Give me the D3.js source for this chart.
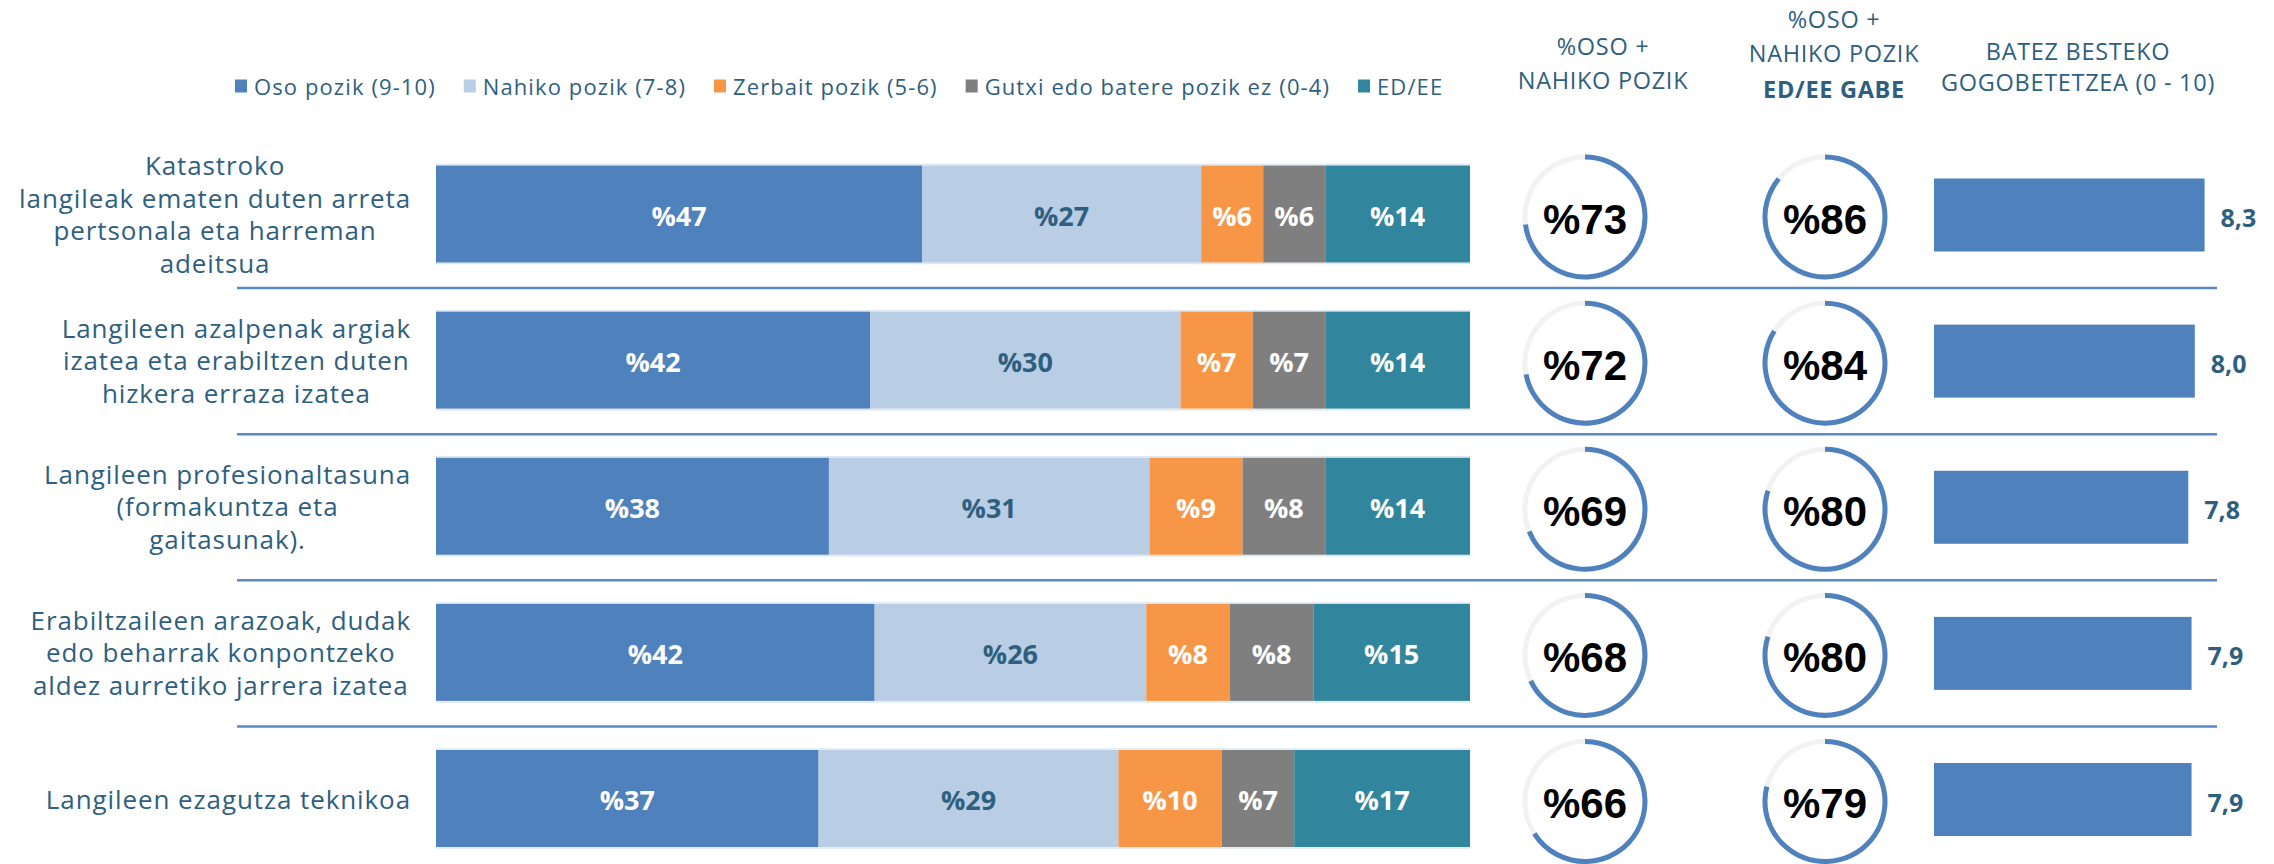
<!DOCTYPE html>
<html>
<head>
<meta charset="utf-8">
<script src="https://cdn.jsdelivr.net/npm/d3@7"></script>
<style>
  html, body { margin: 0; padding: 0; background: #ffffff; }
  svg { display: block; }
</style>
</head>
<body>
<svg id="chart" width="2274" height="864"></svg>
<script>
// ---------------- DATA ----------------
const categories = [
  ["Katastroko", "langileak ematen duten arreta", "pertsonala eta harreman", "adeitsua"],
  ["Langileen azalpenak argiak", "izatea eta erabiltzen duten", "hizkera erraza izatea"],
  ["Langileen profesionaltasuna", "(formakuntza eta", "gaitasunak)."],
  ["Erabiltzaileen arazoak, dudak", "edo beharrak konpontzeko", "aldez aurretiko jarrera izatea"],
  ["Langileen ezagutza teknikoa"]
];
const seriesNames = ["Oso pozik (9-10)", "Nahiko pozik (7-8)", "Zerbait pozik (5-6)", "Gutxi edo batere pozik ez (0-4)", "ED/EE"];
const osoPozik     = [47, 42, 38, 42, 37];
const nahikoPozik  = [27, 30, 31, 26, 29];
const zerbaitPozik = [6, 7, 9, 8, 10];
const gutxiPozik   = [6, 7, 8, 8, 7];
const edEe         = [14, 14, 14, 15, 17];
const osoNahiko      = [73, 72, 69, 68, 66];
const osoNahikoGabe  = [86, 84, 80, 80, 79];
const batezBesteko   = [8.3, 8.0, 7.8, 7.9, 7.9];
const headerOsoNahiko = ["%OSO +", "NAHIKO POZIK"];
const headerGabe      = ["%OSO +", "NAHIKO POZIK", "ED/EE GABE"];
const headerBatez     = ["BATEZ BESTEKO", "GOGOBETETZEA (0 - 10)"];

// ---------------- STYLE ----------------
const colors = ["#4f81bd", "#b9cde5", "#f79646", "#7f7f7f", "#31859c"];
const labelColors = ["#ffffff", "#2f5f7f", "#ffffff", "#ffffff", "#ffffff"];
const textColor = "#2f5f7f";
const FONT = "'Open Sans', 'DejaVu Sans', sans-serif";
const NUMFONT = "'Liberation Sans', Arial, sans-serif";

const svg = d3.select("#chart");
const seriesValues = [osoPozik, nahikoPozik, zerbaitPozik, gutxiPozik, edEe];
const idx = categories.map((d, i) => i);

// scales
const y = d3.scalePoint().domain(idx).range([214, 798.5]);
const x = d3.scaleLinear().domain([0, 1]).range([436, 1470]);
const barH = 97;
const xAvg = d3.scaleLinear().domain([0, 10]).range([1934, 1934 + 326]);
const avgH = 73;

// stacked data (rows normalised to full width, labels keep the values)
const rows = idx.map(i => {
  const o = {i};
  seriesNames.forEach((s, k) => o[k] = seriesValues[k][i]);
  return o;
});
const stack = d3.stack().keys(d3.range(seriesNames.length)).offset(d3.stackOffsetExpand)(rows);

// separators
const step = y.step();
idx.slice(0, -1).forEach(i => {
  svg.append("line")
    .attr("x1", 237).attr("x2", 2217)
    .attr("y1", y(i) + step / 2 + 1).attr("y2", y(i) + step / 2 + 1)
    .attr("stroke", "#5b89c4").attr("stroke-width", 2.5);
});

// faint bar outline lines
idx.forEach(i => {
  [y(i) - barH / 2 - 1, y(i) + barH / 2 + 1].forEach(yy => {
    svg.append("line").attr("x1", x(0)).attr("x2", x(1))
      .attr("y1", yy).attr("y2", yy)
      .attr("stroke", "#dde7f2").attr("stroke-width", 1.5);
  });
});

// stacked bars
const gs = svg.selectAll("g.series").data(stack).join("g").attr("class", "series");
gs.each(function(layer, k) {
  const g = d3.select(this);
  g.selectAll("rect").data(layer).join("rect")
    .attr("x", d => x(d[0]))
    .attr("width", d => x(d[1]) - x(d[0]))
    .attr("y", d => y(d.data.i) - barH / 2)
    .attr("height", barH)
    .attr("fill", colors[k]);
  g.selectAll("text").data(layer).join("text")
    .attr("x", d => (x(d[0]) + x(d[1])) / 2)
    .attr("y", d => y(d.data.i) + 1)
    .attr("text-anchor", "middle")
    .attr("dominant-baseline", "central")
    .attr("font-family", FONT)
    .attr("font-weight", "bold")
    .attr("font-size", 27)
    .attr("fill", labelColors[k])
    .text(d => "%" + d.data[k]);
});

// category labels: block right-aligned at 411, lines centered
const lineH = 32.5;
idx.forEach(i => {
  const lines = categories[i];
  const g = svg.append("g");
  const t = g.selectAll("text").data(lines).join("text")
    .attr("font-family", FONT)
    .attr("font-size", 26)
    .attr("letter-spacing", 0.9)
    .attr("fill", textColor)
    .attr("text-anchor", "middle")
    .attr("dominant-baseline", "central")
    .attr("y", (d, j) => y(i) + (j - (lines.length - 1) / 2) * lineH)
    .text(d => d);
  let maxW = 0;
  t.each(function() { maxW = Math.max(maxW, this.getComputedTextLength()); });
  t.attr("x", 411 - maxW / 2);
});

// legend
let lx = 235;
const legY = 86;
seriesNames.forEach((s, k) => {
  svg.append("rect").attr("x", lx).attr("y", legY - 6.5).attr("width", 12).attr("height", 13).attr("fill", colors[k]);
  const t = svg.append("text").attr("x", lx + 19).attr("y", legY)
    .attr("dominant-baseline", "central")
    .attr("font-family", FONT).attr("font-size", 22).attr("letter-spacing", 1.1)
    .attr("fill", textColor)
    .text(s);
  lx += 19 + t.node().getComputedTextLength() + 28;
});

// headers
function header(lines, cx, ys, boldLast) {
  lines.forEach((l, j) => {
    svg.append("text").attr("x", cx).attr("y", ys[j])
      .attr("text-anchor", "middle").attr("dominant-baseline", "central")
      .attr("font-family", FONT).attr("font-size", 23.5)
      .attr("letter-spacing", 0.7)
      .attr("font-weight", boldLast && j === lines.length - 1 ? "bold" : "normal")
      .attr("fill", textColor).text(l);
  });
}
header(headerOsoNahiko, 1603, [46, 80], false);
header(headerGabe, 1834, [19, 53, 89], true);
header(headerBatez, 2078, [51, 82], false);

// donuts
const arcTrack = d3.arc().innerRadius(57.5).outerRadius(62.5).startAngle(0).endAngle(2 * Math.PI);
const arcVal = d3.arc().innerRadius(57.5).outerRadius(62.5).startAngle(0);
function donuts(values, cx) {
  values.forEach((v, i) => {
    const g = svg.append("g").attr("transform", `translate(${cx},${y(i) + 3})`);
    g.append("circle").attr("r", 57.5).attr("fill", "#ffffff");
    g.append("path").attr("d", arcTrack()).attr("fill", "#f2f2f2");
    g.append("path").attr("d", arcVal({endAngle: 2 * Math.PI * v / 100})).attr("fill", "#4f81bd");
    g.append("text").attr("text-anchor", "middle").attr("dominant-baseline", "central")
      .attr("y", 2)
      .attr("font-family", NUMFONT).attr("font-weight", "bold").attr("font-size", 42)
      .attr("fill", "#000000").text("%" + v);
  });
}
donuts(osoNahiko, 1585);
donuts(osoNahikoGabe, 1825);

// average bars
svg.append("g").selectAll("rect").data(batezBesteko).join("rect")
  .attr("x", xAvg(0))
  .attr("width", d => xAvg(d) - xAvg(0))
  .attr("y", (d, i) => y(i) + 1 - avgH / 2)
  .attr("height", avgH)
  .attr("fill", "#4f81bd");
svg.append("g").selectAll("text").data(batezBesteko).join("text")
  .attr("x", d => xAvg(d) + 16)
  .attr("y", (d, i) => y(i) + 3)
  .attr("dominant-baseline", "central")
  .attr("font-family", FONT).attr("font-weight", "bold").attr("font-size", 25)
  .attr("fill", textColor)
  .text(d => d3.format(".1f")(d).replace(".", ","));
</script>
</body>
</html>
